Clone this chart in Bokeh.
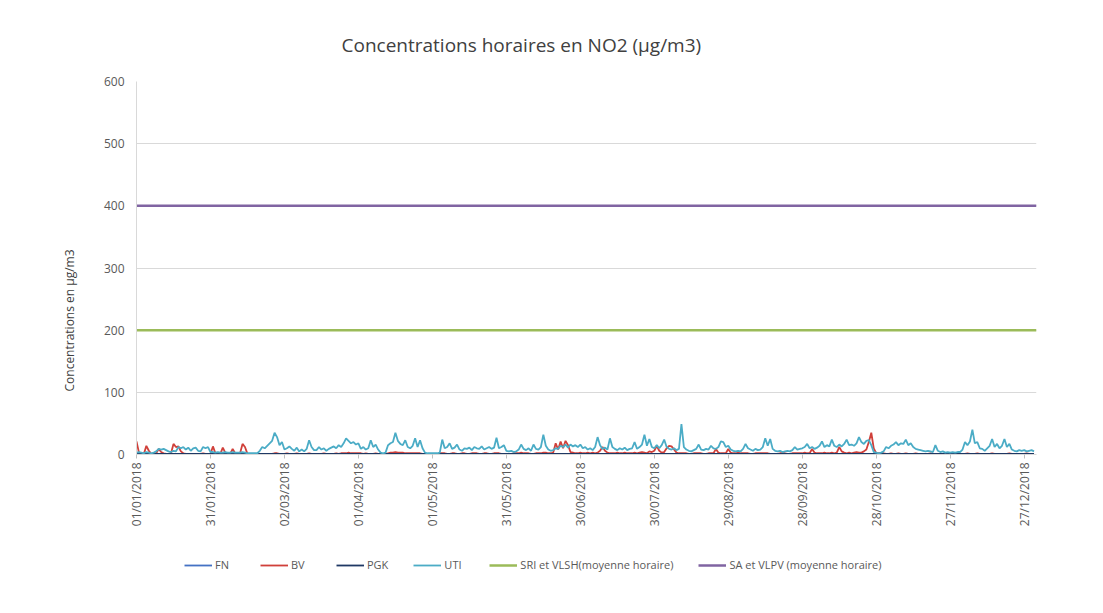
import math
import numpy as np
from bokeh.plotting import figure
from bokeh.layouts import column
from bokeh.models import Range1d, FixedTicker, Legend, LegendItem, Title
from bokeh.embed import file_html
from bokeh.resources import INLINE

title_text = "Concentrations horaires en NO2 (µg/m3)"
y_label_text = "Concentrations en µg/m3"

tick_days = [0, 30, 60, 90, 120, 150, 180, 210, 240, 270, 300, 330, 360]
tick_labels = ["01/01/2018", "31/01/2018", "02/03/2018", "01/04/2018", "01/05/2018",
               "31/05/2018", "30/06/2018", "30/07/2018", "29/08/2018", "28/09/2018",
               "28/10/2018", "27/11/2018", "27/12/2018"]

# daily estimates (µg/m3), day 0 = 01/01/2018
UTI = [
    3, 4, 3, 2, 4, 3, 2, 3, 5, 9, 8, 9, 7, 5, 4, 6, 5, 12, 10, 12, 8, 11, 6, 10, 11, 6, 5, 12, 10, 12, 4,
    4, 3, 4, 3, 3, 4, 3, 3, 4, 3, 3, 3, 4, 3, 2, 2, 2, 2, 2, 6, 12, 10, 14, 18, 22, 35, 28, 15,
    20, 8, 10, 13, 9, 6, 11, 5, 8, 5, 9, 23, 12, 7, 7, 12, 8, 10, 6, 9, 11, 13, 10, 15, 12, 18, 26, 22, 18, 20, 16,
    18, 9, 12, 8, 10, 23, 12, 16, 8, 3, 2, 3, 15, 18, 20, 35, 22, 17, 15, 23, 12, 10, 14, 26, 12, 23, 10, 3, 2, 2,
    2, 2, 2, 3, 24, 10, 12, 18, 9, 11, 16, 8, 6, 10, 9, 11, 7, 12, 10, 9, 13, 8, 10, 12, 9, 11, 27, 10, 12, 15, 6,
    5, 6, 4, 5, 8, 16, 9, 7, 10, 6, 16, 9, 8, 12, 32, 14, 8, 6, 7, 10, 9, 14, 12, 16, 11, 16, 13, 15, 12, 16,
    10, 12, 8, 10, 7, 12, 28, 15, 9, 11, 8, 26, 12, 9, 7, 10, 8, 11, 7, 9, 10, 20, 9, 12, 16, 32, 14, 25, 12, 10, 15,
    10, 15, 24, 12, 9, 8, 10, 7, 9, 49, 12, 8, 6, 5, 7, 9, 16, 8, 7, 9, 8, 14, 10, 9, 12, 21, 20, 12, 14, 8, 6,
    5, 6, 5, 9, 17, 10, 8, 6, 9, 7, 8, 12, 26, 14, 25, 9, 6, 5, 6, 4, 5, 6, 5, 7, 12, 8, 9, 10, 12, 17,
    10, 12, 9, 11, 14, 21, 12, 15, 13, 24, 14, 12, 16, 13, 17, 24, 15, 16, 14, 18, 28, 20, 17, 22, 23, 15, 4, 3, 2, 3, 5,
    12, 10, 14, 16, 20, 15, 18, 17, 24, 15, 18, 12, 9, 8, 7, 6, 5, 6, 5, 4, 15, 6, 4, 5, 3, 4, 3, 4, 3, 4,
    4, 8, 20, 15, 21, 40, 18, 20, 10, 9, 6, 10, 14, 25, 12, 17, 10, 14, 25, 12, 17, 8, 6, 5, 7, 6, 7, 5, 6, 7, 5,
]
BV = [
    21, 3, 2, 1, 14, 6, 1, 1, 2, 9, 4, 2, 1, 1, 2, 17, 12, 13, 5, 2, 1, 1, 1, 1, 1, 1, 1, 2, 1, 1, 1,
    13, 2, 1, 1, 11, 3, 1, 1, 9, 2, 1, 2, 17, 12, 1, 1, 1, 1, 1, 1, 1, 1, 1, 1, 1, 2, 2, 1,
    1, 1, 2, 1, 1, 1, 2, 1, 1, 1, 1, 2, 1, 1, 1, 1, 1, 2, 1, 1, 1, 1, 2, 1, 2, 2, 2, 3, 2, 2, 2,
    2, 2, 1, 2, 1, 1, 1, 2, 1, 1, 1, 1, 2, 3, 3, 4, 3, 3, 3, 2, 2, 2, 2, 2, 2, 2, 1, 1, 1, 1,
    1, 1, 1, 2, 2, 2, 1, 1, 2, 2, 1, 1, 2, 2, 1, 1, 2, 2, 2, 1, 1, 2, 2, 1, 1, 2, 2, 2, 1, 1, 1,
    1, 1, 2, 2, 2, 3, 2, 2, 2, 1, 1, 2, 2, 2, 3, 3, 2, 2, 3, 18, 8, 21, 10, 22, 15, 4, 3, 2, 2, 3,
    2, 2, 3, 2, 3, 2, 3, 6, 12, 6, 3, 2, 2, 2, 3, 2, 2, 3, 2, 2, 2, 3, 2, 3, 4, 3, 2, 5, 4, 6, 14,
    6, 3, 4, 10, 14, 13, 8, 3, 2, 2, 2, 2, 1, 1, 2, 2, 2, 2, 1, 1, 2, 2, 2, 9, 3, 2, 2, 2, 9, 3, 2,
    2, 3, 2, 2, 2, 2, 1, 1, 2, 2, 2, 2, 2, 2, 1, 1, 1, 1, 2, 2, 2, 1, 1, 2, 2, 2, 2, 2, 3, 2,
    2, 9, 3, 2, 2, 2, 3, 2, 2, 3, 2, 3, 12, 5, 3, 2, 3, 2, 3, 4, 3, 3, 5, 8, 20, 35, 10, 2, 2, 2, 2,
    1, 1, 2, 1, 1, 2, 1, 1, 2, 1, 1, 1, 2, 1, 1, 1, 1, 1, 2, 1, 1, 1, 1, 1, 1, 1, 2, 1, 1, 1,
    1, 1, 1, 2, 1, 1, 1, 2, 1, 1, 1, 1, 1, 2, 1, 1, 1, 1, 1, 1, 2, 1, 1, 1, 1, 1, 1, 2, 1, 1, 1,
]
month_days = [0, 31, 59, 90, 120, 151, 181, 212, 243, 273, 304, 334, 364]
FN = [1, 1, 1, 1, 1, 1, 1, 1, 1, 1, 1, 1, 1]
PGK = [1, 1, 1, 1, 1, 1, 1, 1, 1, 1, 1, 1, 1]
SRI_VLSH = 200
SA_VLPV = 400

series_names = ["FN", "BV", "PGK", "UTI",
                "SRI et VLSH(moyenne horaire)", "SA et VLPV (moyenne horaire)"]
colors = ["#4472C4", "#D0403A", "#1F3864", "#4BACC6", "#9BBB59", "#8064A2"]
widths = [1.8, 1.8, 1.8, 1.8, 2.5, 2.5]

days = np.arange(len(UTI))
n_days = len(UTI)
series_xy = [(month_days, FN), (days, BV), (month_days, PGK), (days, UTI),
             ([0, n_days], [SRI_VLSH, SRI_VLSH]), ([0, n_days], [SA_VLPV, SA_VLPV])]

p = figure(width=1095, height=534, output_backend="svg", toolbar_location=None,
           x_range=Range1d(0, n_days), y_range=Range1d(0, 600),
           min_border_left=136, min_border_right=59, min_border_top=81,
           min_border_bottom=80)
p.outline_line_color = None
p.background_fill_color = "white"
p.border_fill_color = "white"

for (xs, ys), c, w in zip(series_xy, colors, widths):
    p.line(xs, ys, line_color=c, line_width=w)

# axes
p.yaxis.ticker = FixedTicker(ticks=[0, 100, 200, 300, 400, 500, 600])
p.yaxis.major_tick_out = 0
p.yaxis.major_tick_in = 0
p.yaxis.minor_tick_out = 0
p.yaxis.minor_tick_in = 0
p.yaxis.axis_line_color = "#d9d9d9"
p.yaxis.major_label_standoff = 12
p.yaxis.major_label_text_font = "Open Sans"
p.yaxis.major_label_text_font_size = "12px"
p.yaxis.major_label_text_color = "#595959"

p.xaxis.ticker = FixedTicker(ticks=tick_days)
p.xaxis.major_label_overrides = {d: l for d, l in zip(tick_days, tick_labels)}
p.xaxis.major_label_orientation = math.pi / 2
p.xaxis.major_tick_out = 4
p.xaxis.major_tick_in = 0
p.xaxis.minor_tick_out = 0
p.xaxis.minor_tick_in = 0
p.xaxis.major_tick_line_color = "#bfbfbf"
p.xaxis.axis_line_color = "#d9d9d9"
p.xaxis.major_label_standoff = 4
p.xaxis.major_label_text_font = "Open Sans"
p.xaxis.major_label_text_font_size = "12px"
p.xaxis.major_label_text_color = "#595959"

p.xgrid.grid_line_color = None
p.ygrid.grid_line_color = "#d9d9d9"
p.ygrid.ticker = FixedTicker(ticks=[100, 200, 300, 400, 500, 600])

# title (above panel), lifted by a small blank spacer between it and the frame
p.title.text = title_text
p.title.align = "left"
p.title.offset = 205
p.title.text_font = "Open Sans"
p.title.text_font_size = "19px"
p.title.text_font_style = "normal"
p.title.text_color = "#404040"
p.add_layout(Title(text=" ", text_font_size="7px"), "above")

# y label (left panel, placed lower than the frame centre as in the original)
ylab = Title(text=y_label_text, align="left", offset=63, standoff=45,
             text_font="Open Sans", text_font_size="12px", text_font_style="normal",
             text_color="#404040")
p.add_layout(ylab, "left")

# legend strip below the chart (separate figure so that it is not clipped)
lg = figure(width=1095, height=60, output_backend="svg", toolbar_location=None,
            x_range=Range1d(0, n_days), y_range=Range1d(1000, 1001),
            x_axis_type=None, y_axis_type=None, min_border=0)
lg.outline_line_color = None
lg.xgrid.grid_line_color = None
lg.ygrid.grid_line_color = None
legend_renderers = [lg.line(xs, ys, line_color=c, line_width=w)
                    for (xs, ys), c, w in zip(series_xy, colors, widths)]
legend = Legend(items=[LegendItem(label=n, renderers=[r]) for n, r in
                       zip(series_names, legend_renderers)],
                orientation="horizontal", location=(48, 22),
                label_text_font="Open Sans", label_text_font_size="11px",
                label_text_color="#595959", glyph_width=28, glyph_height=12,
                spacing=25, label_standoff=3, border_line_color=None,
                background_fill_alpha=0, padding=4, margin=0)
lg.add_layout(legend)

layout = column(p, lg, spacing=0)
open("out.html", "w").write(file_html(layout, INLINE))
